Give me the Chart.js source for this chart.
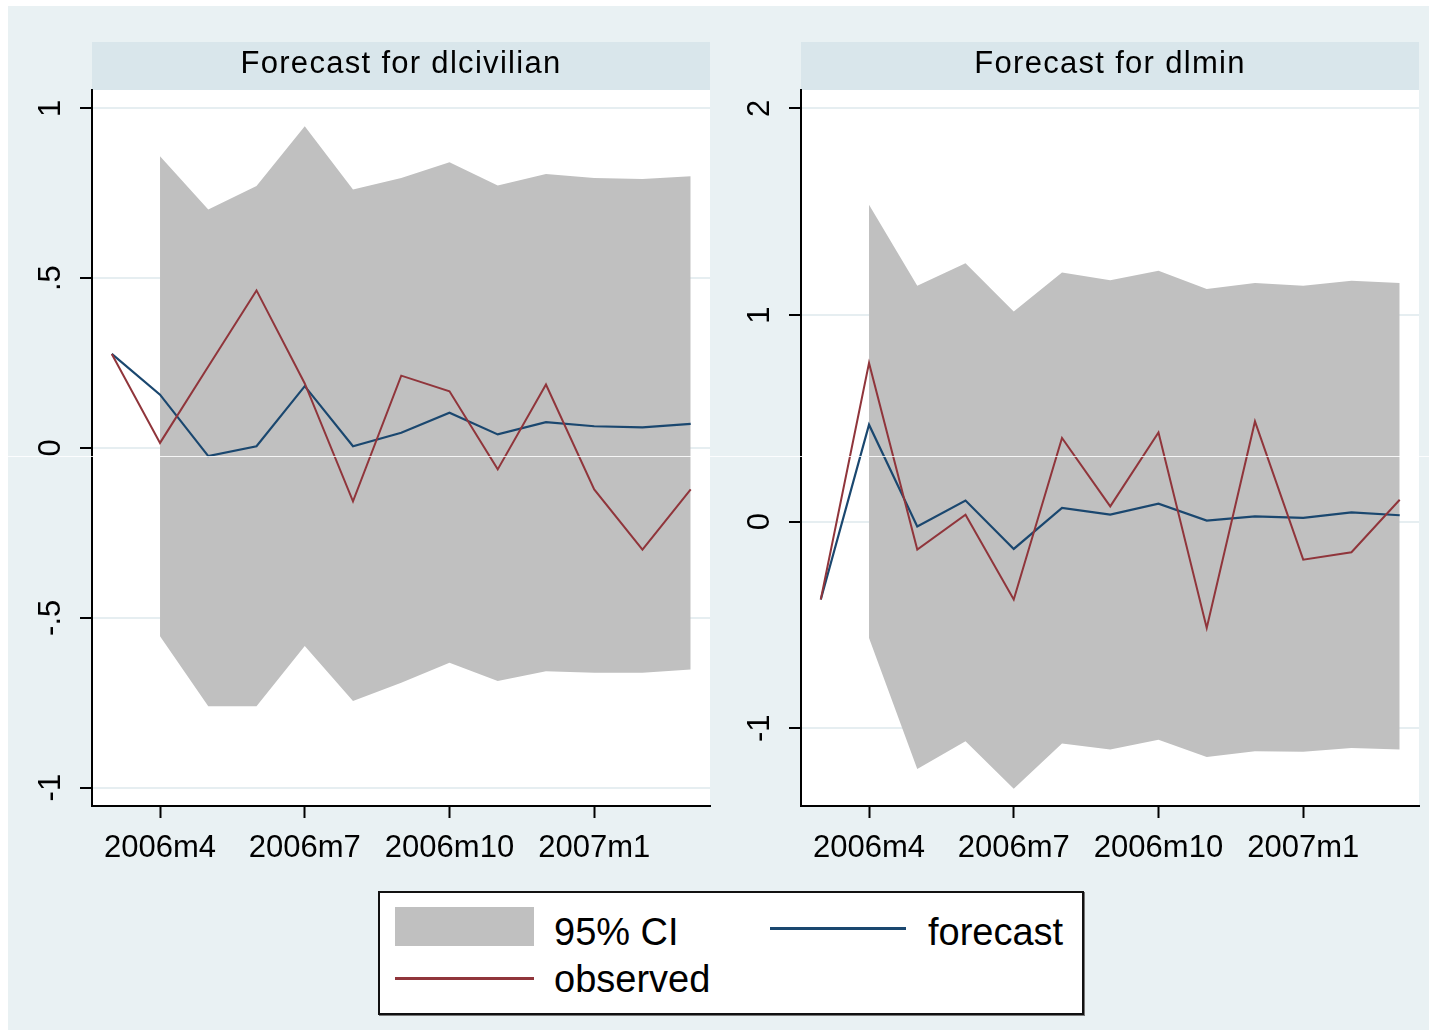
<!DOCTYPE html>
<html>
<head>
<meta charset="utf-8">
<script src="https://cdn.jsdelivr.net/npm/chart.js@4.4.1/dist/chart.umd.min.js"></script>
<style>
  html, body { margin: 0; padding: 0; background: #ffffff; }
  body { width: 1429px; height: 1030px; position: relative; overflow: hidden; font-family: 'Liberation Sans', Arial, sans-serif; }
  #bg { position: absolute; left: 8px; top: 6px; width: 1421px; height: 1024px; background: #e9f1f3; }
  canvas { position: absolute; }
  #c1 { left: 8px; top: 6px; }
  #c2 { left: 720px; top: 6px; }
  #legend { position: absolute; left: 378px; top: 891px; width: 706px; height: 124px; box-sizing: border-box; border: 2px solid #111; background: #fff; box-shadow: 1px 1px 0 #777; }
  .sw { position: absolute; }
  .lt { position: absolute; font-size: 38px; line-height: 38px; color: #000; white-space: nowrap; }
  #artifact { position: absolute; left: 0; top: 456px; width: 1429px; height: 1px; background: rgba(255,255,255,0.85); pointer-events: none; }
</style>
</head>
<body>
<div id="bg"></div>
<canvas id="c1" width="712" height="874"></canvas>
<canvas id="c2" width="709" height="874"></canvas>
<div id="legend"></div>
<div id="artifact"></div>
<script>
// ---- data ----
const months = ["2006m3","2006m4","2006m5","2006m6","2006m7","2006m8","2006m9","2006m10","2006m11","2006m12","2007m1","2007m2","2007m3"];
const xTickIndex = [1, 4, 7, 10];
const xTickLabels = ["2006m4","2006m7","2006m10","2007m1"];

const civTitle = "Forecast for dlcivilian";
const civObserved = [0.277, 0.015, 0.240, 0.464, 0.190, -0.157, 0.213, 0.167, -0.063, 0.187, -0.122, -0.299, -0.122];
const civForecast = [0.277, 0.157, -0.024, 0.005, 0.182, 0.005, 0.045, 0.104, 0.040, 0.076, 0.064, 0.061, 0.071];
const civUpper = [null, 0.859, 0.702, 0.771, 0.947, 0.761, 0.795, 0.841, 0.773, 0.807, 0.795, 0.792, 0.800];
const civLower = [null, -0.554, -0.760, -0.760, -0.583, -0.745, -0.691, -0.632, -0.686, -0.657, -0.662, -0.662, -0.652];
const civYTicks = [-1, -0.5, 0, 0.5, 1];
const civYLabels = ["-1", "-.5", "0", ".5", "1"];

const minTitle = "Forecast for dlmin";
const minObserved = [-0.377, 0.768, -0.135, 0.034, -0.377, 0.405, 0.074, 0.432, -0.514, 0.485, -0.184, -0.148, 0.106];
const minForecast = [-0.377, 0.469, -0.023, 0.102, -0.132, 0.066, 0.034, 0.087, 0.005, 0.026, 0.018, 0.045, 0.031];
const minUpper = [null, 1.534, 1.142, 1.251, 1.017, 1.206, 1.168, 1.214, 1.126, 1.155, 1.142, 1.166, 1.155];
const minLower = [null, -0.563, -1.197, -1.063, -1.293, -1.074, -1.103, -1.055, -1.139, -1.111, -1.114, -1.095, -1.103];
const minYTicks = [-1, 0, 1, 2];
const minYLabels = ["-1", "0", "1", "2"];

const legendLabels = ["95% CI", "forecast", "observed"];

// ---- style ----
const FONT = "'Liberation Sans', Arial, sans-serif";
const C_BAND = '#c0c0c0';
const C_FC = '#1a476f';
const C_OBS = '#90353b';
const C_GRID = '#e6eef1';
const C_TITLEBAR = '#d9e6eb';

function pts(arr) {
  const out = [];
  arr.forEach((v, i) => { if (v !== null) out.push({ x: i, y: v }); });
  return out;
}

const panelBg = {
  id: 'panelBg',
  afterLayout(chart) {
    const tb = chart.titleBlock;
    if (tb && !tb._patched) {
      const orig = tb.draw;
      tb.draw = function (a) {
        const c = this.ctx; c.save(); c.letterSpacing = '1.3px'; orig.call(this, a); c.restore();
      };
      tb._patched = true;
    }
  },
  beforeDraw(chart) {
    const { ctx, chartArea: a } = chart;
    ctx.save();
    ctx.fillStyle = '#ffffff';
    ctx.fillRect(a.left, a.top, a.right - a.left, a.bottom - a.top);
    const tb = chart.titleBlock;
    ctx.fillStyle = C_TITLEBAR;
    ctx.fillRect(a.left, tb.top, a.right - a.left, tb.bottom - tb.top);
    ctx.restore();
  }
};

function makeChart(id, title, obs, fc, up, lo, yMin, yMax, yTicks, yLabels, yWidth, yPad, padRight) {
  return new Chart(document.getElementById(id), {
    type: 'line',
    data: {
      datasets: [
        { label: '95% CI', data: pts(up), borderWidth: 0, pointRadius: 0, backgroundColor: C_BAND, fill: '+1', order: 3, tension: 0 },
        { label: '95% CI lower', data: pts(lo), borderWidth: 0, pointRadius: 0, backgroundColor: C_BAND, fill: false, order: 3, tension: 0 },
        { label: 'forecast', data: pts(fc), borderColor: C_FC, borderWidth: 2.2, pointRadius: 0, fill: false, order: 2, tension: 0 },
        { label: 'observed', data: pts(obs), borderColor: C_OBS, borderWidth: 2, pointRadius: 0, fill: false, order: 1, tension: 0 }
      ]
    },
    options: {
      responsive: false,
      animation: false,
      devicePixelRatio: 1,
      layout: { padding: { top: 36, right: padRight, bottom: 0, left: 0 } },
      plugins: {
        legend: { display: false },
        tooltip: { enabled: false },
        title: {
          display: true, text: title, fullSize: false, color: '#000',
          font: { family: FONT, size: 31, weight: 'normal', lineHeight: '44px' },
          padding: { top: 0, bottom: 4 }
        }
      },
      scales: {
        x: {
          type: 'linear', min: -0.41, max: 12.40,
          afterBuildTicks: (s) => { s.ticks = xTickIndex.map(v => ({ value: v })); },
          afterFit: (s) => { s.height = 74; },
          grid: { drawOnChartArea: false, drawTicks: true, tickLength: 12, tickWidth: 2, tickColor: '#000' },
          border: { display: true, color: '#000', width: 2 },
          ticks: {
            color: '#000', font: { family: FONT, size: 31 }, padding: 12, minRotation: 0, maxRotation: 0, autoSkip: false,
            callback: (v, i) => xTickLabels[i]
          }
        },
        y: {
          type: 'linear', min: yMin, max: yMax,
          afterBuildTicks: (s) => { s.ticks = yTicks.map(v => ({ value: v })); },
          afterFit: (s) => { s.width = yWidth; },
          grid: { drawOnChartArea: true, color: C_GRID, lineWidth: 2, drawTicks: true, tickLength: 12, tickWidth: 2, tickColor: '#000' },
          border: { display: true, color: '#000', width: 2 },
          ticks: {
            color: '#000', font: { family: FONT, size: 31 }, padding: yPad, minRotation: 90, maxRotation: 90,
            crossAlign: 'center', align: 'center', autoSkip: false,
            callback: (v, i) => yLabels[i]
          }
        }
      }
    },
    plugins: [panelBg]
  });
}

makeChart('c1', civTitle, civObserved, civForecast, civUpper, civLower, -1.054, 1.054, civYTicks, civYLabels, 84, 10, 10);
makeChart('c2', minTitle, minObserved, minForecast, minUpper, minLower, -1.376, 2.089, minYTicks, minYLabels, 81, 14.7, 10);

// ---- legend (HTML) ----
const lg = document.getElementById('legend');
function add(html) { lg.insertAdjacentHTML('beforeend', html); }
// positions relative to legend box (box at 378,891 with 2px border)
add(`<div class="sw" style="left:15px;top:14px;width:139px;height:39px;background:${C_BAND}"></div>`);
add(`<div class="lt" style="left:174px;top:20px">${legendLabels[0]}</div>`);
add(`<div class="sw" style="left:390px;top:34px;width:136px;height:3px;background:${C_FC}"></div>`);
add(`<div class="lt" style="left:548px;top:20px">${legendLabels[1]}</div>`);
add(`<div class="sw" style="left:15px;top:84px;width:139px;height:3px;background:${C_OBS}"></div>`);
add(`<div class="lt" style="left:174px;top:67px">${legendLabels[2]}</div>`);
</script>
</body>
</html>
